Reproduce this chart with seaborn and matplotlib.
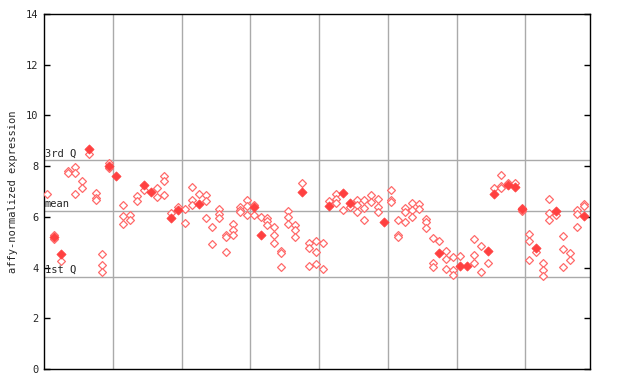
import numpy as np
import pandas as pd
import matplotlib
matplotlib.use("Agg")
import matplotlib.pyplot as plt
import seaborn as sns

# per-sample expression values (sample index 0..78)
values = [
    [6.9], [5.28, 5.2, 5.13], [4.53, 4.26], [7.8, 7.73], [7.96, 7.73, 6.9],
    [7.41, 7.14], [8.68, 8.48], [6.94, 6.74, 6.66], [4.53, 4.1, 3.82], [8.12, 8.0, 7.93],
    [7.61], [6.47, 6.03, 5.72], [6.07, 5.88], [6.82, 6.62], [7.26, 7.06],
    [6.98], [7.14, 6.78], [7.61, 7.41, 6.86], [6.15, 5.95], [6.39, 6.27],
    [6.31, 5.76], [7.18, 6.66, 6.47], [6.9, 6.51], [6.86, 6.62, 5.95], [5.6, 4.93],
    [6.31, 6.11, 5.95], [5.28, 5.2, 4.61], [5.72, 5.48, 5.28], [6.39, 6.27, 6.19], [6.66, 6.43, 6.07],
    [6.47, 6.39, 6.07], [5.99, 5.28], [5.95, 5.84, 5.68], [5.6, 5.28, 4.97], [4.65, 4.57, 4.02],
    [6.23, 5.99, 5.72], [5.68, 5.48, 5.2], [7.33, 6.98], [4.97, 4.77, 4.06], [5.05, 4.61, 4.14],
    [4.97, 3.94], [6.62, 6.43], [6.9, 6.7, 6.55], [6.94, 6.27], [6.55, 6.39],
    [6.66, 6.47, 6.19], [6.66, 6.35, 5.88], [6.86, 6.58], [6.7, 6.39, 6.19], [5.8],
    [7.06, 6.66, 6.58], [5.88, 5.28, 5.2], [6.35, 6.19, 5.8], [6.55, 6.27, 5.99], [6.51, 6.31],
    [5.92, 5.8, 5.56], [5.16, 4.18, 4.02], [5.05, 4.57], [4.65, 4.34, 3.94], [4.42, 3.9, 3.71],
    [4.46, 4.06], [4.06], [5.13, 4.5, 4.18], [4.85, 3.82], [4.65, 4.18],
    [7.14, 6.9], [7.65, 7.22, 7.14], [7.33, 7.26], [7.33, 7.18], [6.35, 6.31, 6.23],
    [5.32, 5.05, 4.3], [4.77, 4.61], [4.18, 3.9, 3.67], [6.7, 6.15, 5.88], [6.23, 6.07],
    [5.24, 4.73, 4.02], [4.57, 4.3], [6.27, 6.11, 5.6], [6.51, 6.43, 6.03],
]
# which point of each sample is drawn solid (-1 = none)
solid = [
    -1, 1, 0, -1, -1, -1, 0, -1, -1, 1,
    0, -1, -1, -1, 0, 0, -1, -1, 1, 1,
    -1, -1, 1, -1, -1, -1, -1, -1, -1, -1,
    1, 1, -1, -1, -1, -1, -1, 1, -1, -1,
    -1, 1, -1, 0, 0, -1, -1, -1, -1, 0,
    -1, -1, -1, -1, -1, -1, -1, 1, -1, -1,
    1, 0, -1, -1, 0, 1, -1, 1, 1, 1,
    -1, 0, -1, -1, 0, -1, -1, -1, 2,
]
q1, mean_val, q3 = 3.63, 6.23, 8.24
group_edges = [9.5, 19.5, 29.5, 39.5, 49.5, 59.5, 69.5]

rows = []
for i, vals in enumerate(values):
    for j, v in enumerate(vals):
        rows.append({"sample": i, "expr": v, "solid": j == solid[i]})
df = pd.DataFrame(rows)

sns.set_style("white")
fig = plt.figure(figsize=(6.4, 3.84), dpi=100)
ax = fig.add_axes([44/640, 15/384, 546/640, 355/384])

for x in group_edges:
    ax.axvline(x, color="#aaaaaa", lw=1, zorder=1)
for y in [q1, mean_val, q3]:
    ax.axhline(y, color="#aaaaaa", lw=1, zorder=1)

sns.scatterplot(data=df[~df["solid"]], x="sample", y="expr", marker="D", s=16,
                color="white", edgecolor="#ff6a6a", linewidth=0.9, ax=ax, zorder=3)
sns.scatterplot(data=df[df["solid"]], x="sample", y="expr", marker="D", s=22,
                color="#ff4040", edgecolor="#ff4040", linewidth=0.5, ax=ax, zorder=4)

mono = "DejaVu Sans Mono"
ax.text(-0.4, q3 + 0.07, "3rd Q", fontsize=7.5, family=mono, va="bottom", ha="left")
ax.text(-0.4, mean_val + 0.07, "mean", fontsize=7.5, family=mono, va="bottom", ha="left")
ax.text(-0.4, q1 + 0.07, "1st Q", fontsize=7.5, family=mono, va="bottom", ha="left")

ax.set_xlim(-0.5, 78.9)
ax.set_ylim(0, 14)
ax.set_yticks(range(0, 15, 2))
ax.set_yticklabels([str(t) for t in range(0, 15, 2)], family=mono, fontsize=7.5)
ax.set_xticks([])
ax.tick_params(axis="y", direction="in", length=4, width=1, color="black",
               right=True, left=True, pad=4)
ax.set_xlabel("")
ax.set_ylabel("affy-normalized expression", family=mono, fontsize=7.5, labelpad=6)
for s in ax.spines.values():
    s.set_visible(True)
    s.set_color("black")
    s.set_linewidth(1)

fig.savefig("out.png", dpi=100)
